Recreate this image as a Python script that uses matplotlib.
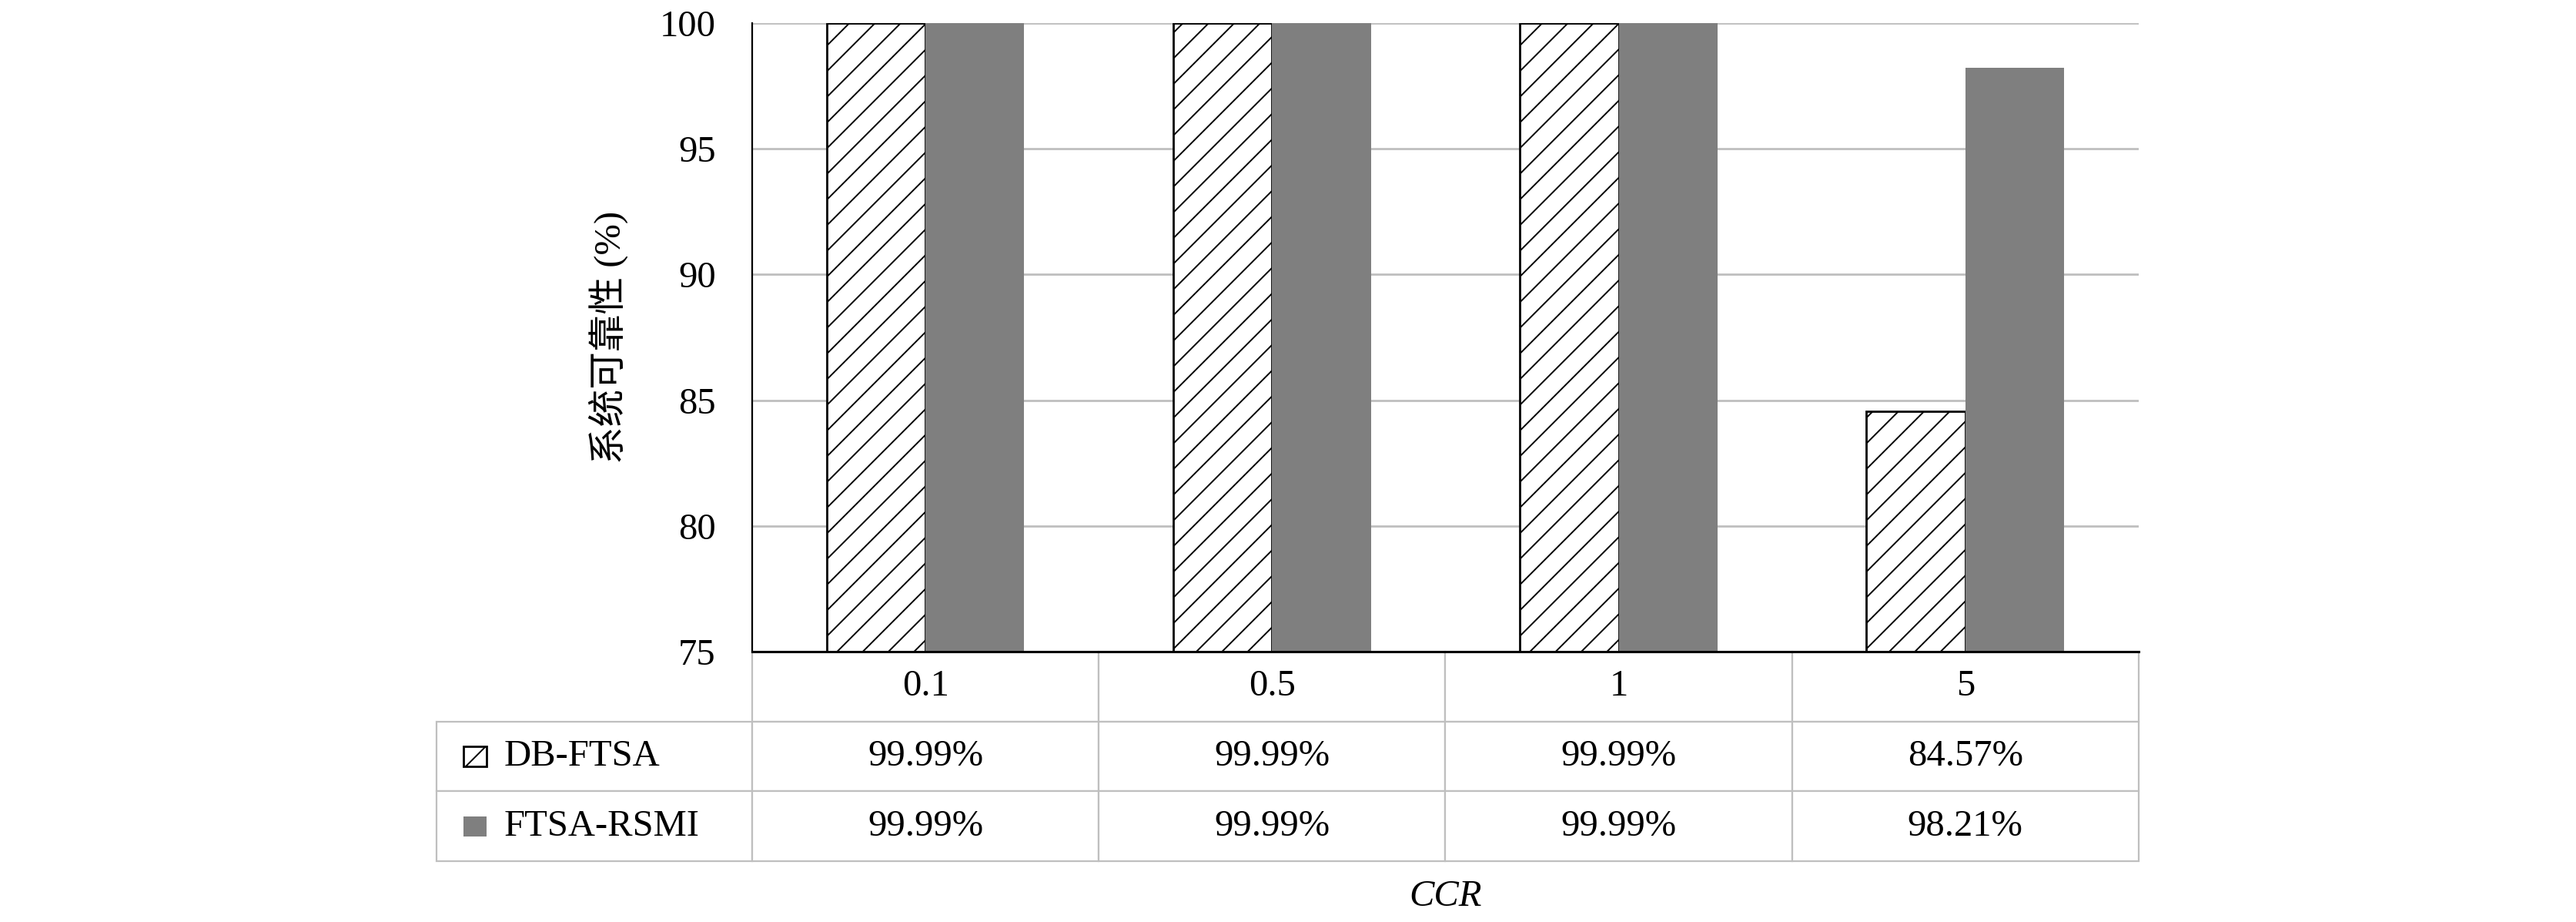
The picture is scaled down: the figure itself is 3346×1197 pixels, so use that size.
import numpy as np
import matplotlib
matplotlib.use("Agg")
import matplotlib.pyplot as plt
from matplotlib.patches import Rectangle
from matplotlib.table import Table

# data
ccr_labels = ["0.1", "0.5", "1", "5"]
db_ftsa = [99.99, 99.99, 99.99, 84.57]
ftsa_rsmi = [99.99, 99.99, 99.99, 98.21]
series_names = ["DB-FTSA", "FTSA-RSMI"]
y_ticks = [75, 80, 85, 90, 95, 100]

serif = ["Liberation Serif", "Noto Sans CJK SC"]
plt.rcParams["font.family"] = serif
plt.rcParams["hatch.linewidth"] = 0.7
fs = 17.5

fig = plt.figure(figsize=(16.73, 5.985), dpi=200)
ax = fig.add_axes([0.2920, 0.2932, 0.5382, 0.6817])

x = np.arange(len(ccr_labels))
w = 0.285
ax.bar(x - w / 2, db_ftsa, w, facecolor="white", edgecolor="black",
       linewidth=1.0, hatch="//", zorder=3)
ax.bar(x + w / 2, ftsa_rsmi, w, color="#7f7f7f", linewidth=0, zorder=3)

ax.set_xlim(-0.5, len(ccr_labels) - 0.5)
ax.set_ylim(75, 100)
ax.set_yticks(y_ticks)
ax.set_xticks([])
ax.tick_params(axis="y", length=0, pad=17, labelsize=fs)
ax.yaxis.grid(True, color="#bfbfbf", linewidth=1.0)
ax.set_axisbelow(True)
for s in ["top", "right"]:
    ax.spines[s].set_visible(False)
ax.spines["left"].set_linewidth(0.8)
ax.spines["bottom"].set_linewidth(1.1)
ax.spines["bottom"].set_zorder(5)

ax.text(-0.104, 0.5, "系统可靠性 (%)", transform=ax.transAxes, rotation=90,
        ha="center", va="center", fontsize=fs, family=serif)

# data table under the plot (bbox covers the data columns only)
lab_w = 0.2277
tab_h = 0.3333
tab = Table(ax, bbox=[0, -tab_h, 1, tab_h])
tab.auto_set_font_size(False)
col_w = 0.25
row_h = tab_h / 3
for j, lab in enumerate(ccr_labels):
    tab.add_cell(0, j, width=col_w, height=row_h, text=lab, loc="center")
rows = [db_ftsa, ftsa_rsmi]
for i, vals in enumerate(rows):
    tab.add_cell(i + 1, -1, width=lab_w, height=row_h, text="", loc="left")
    for j, v in enumerate(vals):
        tab.add_cell(i + 1, j, width=col_w, height=row_h, text="%.2f%%" % v,
                     loc="center")
for (r, c), cell in tab.get_celld().items():
    cell.set_edgecolor("#bfbfbf")
    cell.set_linewidth(0.8)
    cell.get_text().set_fontsize(fs)
    cell.get_text().set_family(serif)
ax.add_table(tab)

# legend keys in the row label cells
row_y = [-tab_h * 1.5 / 3, -tab_h * 2.5 / 3]
kw, kh = 30 / 1801, 26 / 816
ax.add_patch(Rectangle((-lab_w + 35 / 1801, row_y[0] - kh / 2), kw, kh,
                       transform=ax.transAxes, clip_on=False, facecolor="white",
                       edgecolor="black", linewidth=1.0, hatch="/"))
ax.add_patch(Rectangle((-lab_w + 35 / 1801, row_y[1] - kh / 2), kw, kh,
                       transform=ax.transAxes, clip_on=False, facecolor="#7f7f7f",
                       linewidth=0))
for yy, name in zip(row_y, series_names):
    ax.text(-lab_w + 88 / 1801, yy, name, transform=ax.transAxes,
            ha="left", va="center", fontsize=fs, family=serif)

ax.text(0.5, -0.390, "CCR", transform=ax.transAxes, ha="center", va="center",
        fontsize=fs, style="italic", family=serif)

fig.savefig("out.png", dpi=200)
